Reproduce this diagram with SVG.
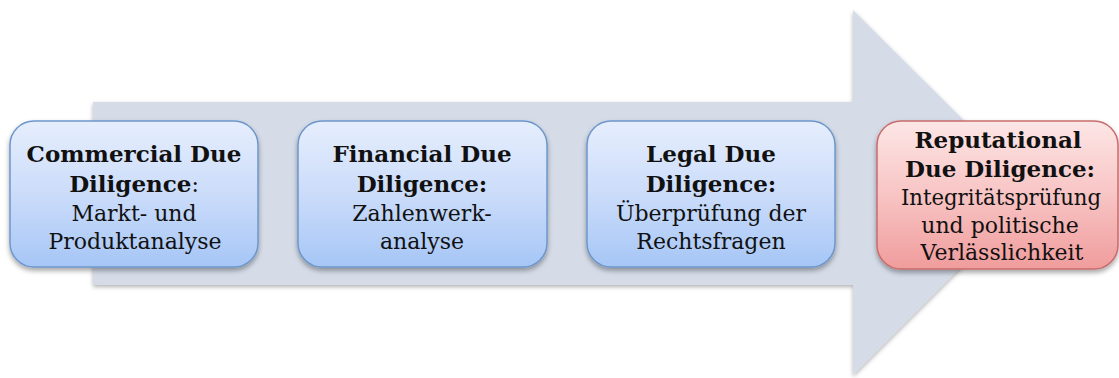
<svg xmlns="http://www.w3.org/2000/svg" width="1119" height="378" viewBox="0 0 1119 378">
  <defs>
    <linearGradient id="blueFill" x1="0" y1="0" x2="0" y2="1">
      <stop offset="0" stop-color="#e6eefd"/>
      <stop offset="0.5" stop-color="#cbdcfa"/>
      <stop offset="1" stop-color="#a6c6f6"/>
    </linearGradient>
    <linearGradient id="redFill" x1="0" y1="0" x2="0" y2="1">
      <stop offset="0" stop-color="#fde6e6"/>
      <stop offset="0.5" stop-color="#f8c4c4"/>
      <stop offset="1" stop-color="#f09c9c"/>
    </linearGradient>
    <filter id="shadow" x="-10%" y="-10%" width="120%" height="130%">
      <feDropShadow dx="0" dy="3" stdDeviation="2.5" flood-color="#000" flood-opacity="0.35"/>
    </filter>
    <filter id="arrowShadow" x="-5%" y="-5%" width="110%" height="115%">
      <feDropShadow dx="0" dy="2" stdDeviation="2" flood-color="#000" flood-opacity="0.3"/>
    </filter>
  </defs>
  <style>
    .box { stroke-width: 1.5; }
    .blue { fill: url(#blueFill); stroke: #6d97cb; }
    .red { fill: url(#redFill); stroke: #c86c6c; }
    text { font-family: "DejaVu Serif", "Liberation Serif", serif; font-size: 22px; fill: #111; text-anchor: middle; }
    .b { font-weight: bold; font-size: 23px; }
  </style>

  <!-- large process arrow in the background -->
  <g id="connectors">
    <path d="M93,102 L853,102 L853,10 L1036,192 L853,375 L853,285 L93,285 Z" fill="#d5dce8" filter="url(#arrowShadow)"/>
  </g>

  <g id="commercial">
    <rect class="box blue" x="10" y="121" width="248" height="146" rx="24" filter="url(#shadow)"/>
    <text x="134" y="162" class="b">Commercial Due</text>
    <text x="134" y="192"><tspan class="b">Diligence</tspan>:</text>
    <text x="134" y="221">Markt- und</text>
    <text x="135" y="249">Produktanalyse</text>
  </g>

  <g id="financial">
    <rect class="box blue" x="298" y="121" width="249" height="146" rx="24" filter="url(#shadow)"/>
    <text x="422" y="162" class="b">Financial Due</text>
    <text x="422" y="192" class="b">Diligence:</text>
    <text x="422" y="221">Zahlenwerk-</text>
    <text x="422" y="249">analyse</text>
  </g>

  <g id="legal">
    <rect class="box blue" x="587" y="121" width="248" height="146" rx="24" filter="url(#shadow)"/>
    <text x="711" y="162" class="b">Legal Due</text>
    <text x="711" y="192" class="b">Diligence:</text>
    <text x="711" y="221">Überprüfung der</text>
    <text x="711" y="249">Rechtsfragen</text>
  </g>

  <g id="reputational">
    <rect class="box red" x="877" y="121" width="241" height="148" rx="24" filter="url(#shadow)"/>
    <text x="998" y="148" class="b">Reputational</text>
    <text x="1000" y="177" class="b">Due Diligence:</text>
    <text x="1001" y="205" textLength="200" lengthAdjust="spacingAndGlyphs">Integritätsprüfung</text>
    <text x="1000" y="233">und politische</text>
    <text x="1002" y="260">Verlässlichkeit</text>
  </g>
</svg>
